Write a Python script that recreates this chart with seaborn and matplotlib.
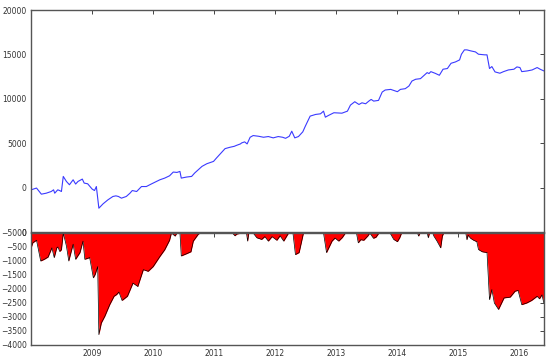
import pandas as pd
import seaborn as sns
import matplotlib
matplotlib.use('Agg')
import matplotlib.pyplot as plt
import matplotlib.dates as mdates

# Curva de capital (painel de cima)
datas_capital = [
    '2008-01-02', '2008-02-03', '2008-03-03', '2008-04-01', '2008-05-01', '2008-05-15',
    '2008-05-22', '2008-06-09', '2008-06-20', '2008-07-01', '2008-07-12', '2008-07-31',
    '2008-08-18', '2008-09-09', '2008-09-24', '2008-10-08', '2008-11-03', '2008-11-14',
    '2008-12-05', '2009-01-01', '2009-01-15', '2009-01-26', '2009-02-10', '2009-03-07',
    '2009-04-05', '2009-05-05', '2009-05-23', '2009-06-07', '2009-06-25', '2009-07-24',
    '2009-08-15', '2009-08-29', '2009-09-24', '2009-10-23', '2009-11-21', '2009-12-20',
    '2010-02-10', '2010-03-11', '2010-04-09', '2010-05-01', '2010-05-23', '2010-06-10',
    '2010-06-18', '2010-07-20', '2010-08-19', '2010-09-06', '2010-09-27', '2010-10-20',
    '2010-11-18', '2010-12-28', '2011-01-15', '2011-02-06', '2011-03-07', '2011-04-05',
    '2011-05-01', '2011-05-15', '2011-06-07', '2011-06-14', '2011-07-02', '2011-07-17',
    '2011-08-04', '2011-08-22', '2011-09-24', '2011-10-23', '2011-11-21', '2011-12-20',
    '2012-01-19', '2012-02-14', '2012-03-03', '2012-03-25', '2012-04-09', '2012-04-27',
    '2012-05-19', '2012-06-14', '2012-06-29', '2012-07-28', '2012-08-30', '2012-09-28',
    '2012-10-16', '2012-10-27', '2012-11-14', '2012-12-17', '2013-02-03', '2013-03-08',
    '2013-03-26', '2013-04-21', '2013-05-16', '2013-06-03', '2013-06-25', '2013-07-14',
    '2013-07-28', '2013-08-12', '2013-09-10', '2013-10-02', '2013-10-20', '2013-11-22',
    '2014-01-01', '2014-01-19', '2014-02-17', '2014-03-11', '2014-03-29', '2014-04-20',
    '2014-05-19', '2014-06-06', '2014-06-28', '2014-07-09', '2014-07-20', '2014-08-15',
    '2014-09-09', '2014-10-01', '2014-10-27', '2014-11-18', '2014-12-14', '2015-01-08',
    '2015-01-19', '2015-02-06', '2015-02-21', '2015-03-15', '2015-04-13', '2015-05-01',
    '2015-06-07', '2015-06-21', '2015-07-06', '2015-07-20', '2015-08-08', '2015-09-06',
    '2015-09-28', '2015-10-27', '2015-11-29', '2015-12-17', '2016-01-04', '2016-01-15',
    '2016-02-17', '2016-03-17', '2016-04-16', '2016-05-04', '2016-05-26',
]
valores_capital = [
    -250, -50, -740, -630, -440, -250,
    -630, -250, -330, -440, 1260, 690,
    320, 880, 400, 690, 960, 510,
    430, -170, -330, 120, -2320, -1830,
    -1380, -1000, -930, -1000, -1190, -1000,
    -630, -330, -440, 120, 120, 400,
    880, 1070, 1330, 1750, 1710, 1820,
    1070, 1190, 1260, 1640, 2000, 2390,
    2690, 2950, 3340, 3790, 4390, 4540,
    4650, 4760, 4920, 5030, 5150, 4920,
    5670, 5860, 5780, 5670, 5750, 5600,
    5750, 5670, 5550, 5780, 6350, 5600,
    5750, 6280, 6910, 8050, 8240, 8310,
    8610, 7930, 8120, 8430, 8380, 8610,
    9290, 9670, 9360, 9550, 9440, 9740,
    9930, 9740, 9820, 10760, 10990, 11060,
    10800, 11060, 11140, 11440, 12000, 12200,
    12270, 12570, 12950, 12840, 13060, 12870,
    12650, 13330, 13410, 14000, 14150, 14380,
    15020, 15510, 15510, 15400, 15280, 15020,
    14950, 14950, 13410, 13630, 13030, 12880,
    13060, 13250, 13330, 13590, 13520, 13060,
    13140, 13250, 13520, 13330, 13140,
]

# Drawdown (painel de baixo)
datas_dd = [
    '2008-01-02', '2008-01-12', '2008-02-03', '2008-02-28', '2008-03-21', '2008-04-12',
    '2008-05-05', '2008-05-19', '2008-06-03', '2008-06-10', '2008-06-21', '2008-07-01',
    '2008-07-12', '2008-07-31', '2008-08-14', '2008-09-09', '2008-09-24', '2008-10-20',
    '2008-11-07', '2008-11-18', '2008-12-17', '2009-01-08', '2009-01-19', '2009-02-03',
    '2009-02-10', '2009-02-25', '2009-03-18', '2009-04-16', '2009-05-12', '2009-05-27',
    '2009-06-10', '2009-06-29', '2009-07-31', '2009-09-02', '2009-09-16', '2009-10-01',
    '2009-11-03', '2009-12-02', '2010-01-01', '2010-02-10', '2010-03-11', '2010-04-09',
    '2010-04-20', '2010-05-12', '2010-05-23', '2010-06-10', '2010-06-18', '2010-07-20',
    '2010-08-15', '2010-08-29', '2010-09-27', '2010-10-08', '2011-04-20', '2011-05-05',
    '2011-05-16', '2011-06-14', '2011-07-13', '2011-07-20', '2011-07-27', '2011-08-22',
    '2011-09-13', '2011-10-12', '2011-10-31', '2011-11-21', '2011-12-13', '2012-01-11',
    '2012-01-30', '2012-02-21', '2012-03-21', '2012-04-16', '2012-05-01', '2012-05-23',
    '2012-06-18', '2012-10-16', '2012-11-03', '2012-12-06', '2012-12-24', '2013-01-15',
    '2013-02-06', '2013-02-24', '2013-05-01', '2013-05-12', '2013-05-27', '2013-06-14',
    '2013-07-09', '2013-07-20', '2013-08-11', '2013-08-26', '2013-09-13', '2013-11-18',
    '2013-12-10', '2014-01-01', '2014-01-15', '2014-01-26', '2014-05-01', '2014-05-08',
    '2014-05-16', '2014-06-28', '2014-07-05', '2014-07-12', '2014-07-31', '2014-08-07',
    '2014-08-26', '2014-09-17', '2014-09-27', '2014-10-05', '2015-02-14', '2015-02-21',
    '2015-02-28', '2015-03-15', '2015-04-02', '2015-04-21', '2015-05-01', '2015-05-23',
    '2015-06-21', '2015-07-06', '2015-07-20', '2015-08-04', '2015-08-29', '2015-10-01',
    '2015-11-07', '2015-12-06', '2015-12-24', '2016-01-15', '2016-02-14', '2016-03-14',
    '2016-04-16', '2016-04-30', '2016-05-15', '2016-05-26',
]
valores_dd = [
    -530, -350, -260, -1000, -940, -860,
    -530, -880, -530, -500, -660, -600,
    0, -470, -1000, -400, -940, -700,
    -290, -940, -880, -1600, -1480, -1200,
    -3630, -3210, -2970, -2560, -2260, -2200,
    -2110, -2410, -2260, -1790, -1850, -1910,
    -1310, -1370, -1200, -840, -600, -260,
    0, -110, 0, 0, -820, -740,
    -670, -290, -50, 0, 0, -100,
    -40, 0, 0, -290, 0, 0,
    -170, -230, -130, -290, -130, -260,
    -100, -290, 0, 0, -770, -700,
    0, 0, -700, -290, -180, -290,
    -160, 0, 0, -350, -240, -260,
    -100, 0, -190, -150, 0, 0,
    -230, -310, -170, 0, 0, -110,
    0, 0, -170, 0, 0, -110,
    -290, -530, -110, 0, 0, -240,
    -80, -190, -260, -310, -590, -670,
    -700, -2380, -2020, -2500, -2730, -2320,
    -2290, -2080, -2050, -2560, -2500, -2410,
    -2260, -2350, -2210, -2500,
]

anos_ticks = ['2009', '2010', '2011', '2012', '2013', '2014', '2015', '2016']


def ajustaEixo(ax):
    """Estilo antigo do matplotlib: ticks para dentro e moldura escura."""
    ax.tick_params(direction='in', top=True, right=True, length=3, width=0.6,
                   labelsize=5.5, labelcolor='#333333', pad=3)
    for spine in ax.spines.values():
        spine.set_visible(True)
        spine.set_color('#555555')
        spine.set_linewidth(1.0)
    ax.set_xlabel('')
    ax.set_ylabel('')


def main():
    sns.set_style('white')

    df_capital = pd.DataFrame({'data': pd.to_datetime(datas_capital), 'valor': valores_capital})
    df_dd = pd.DataFrame({'data': pd.to_datetime(datas_dd), 'valor': valores_dd})

    fig = plt.figure(figsize=(5.5, 3.6), dpi=100)
    ax_cima = fig.add_axes([31 / 550, 1 - 232 / 360, 513 / 550, 222 / 360])
    ax_baixo = fig.add_axes([31 / 550, 1 - 345 / 360, 513 / 550, 112 / 360], sharex=ax_cima)

    sns.lineplot(data=df_capital, x='data', y='valor', ax=ax_cima, color='#3a3aff', linewidth=0.8)
    ax_cima.set_ylim(-5000, 20000)
    ax_cima.set_yticks([-5000, 0, 5000, 10000, 15000, 20000])
    ajustaEixo(ax_cima)
    ax_cima.tick_params(labelbottom=False)

    ax_baixo.fill_between(df_dd['data'], df_dd['valor'], 0, color='red', linewidth=0)
    sns.lineplot(data=df_dd, x='data', y='valor', ax=ax_baixo, color='black', linewidth=0.5)
    ax_baixo.set_ylim(-4000, 0)
    ax_baixo.set_yticks(range(-4000, 1, 500))
    ajustaEixo(ax_baixo)

    ax_baixo.set_xlim(pd.Timestamp('2008-01-01'), pd.Timestamp('2016-05-27'))
    ax_baixo.set_xticks([pd.Timestamp(f'{a}-01-01') for a in anos_ticks])
    ax_baixo.xaxis.set_major_formatter(mdates.DateFormatter('%Y'))

    fig.savefig('out.png', dpi=100)


if __name__ == "__main__":
    main()
